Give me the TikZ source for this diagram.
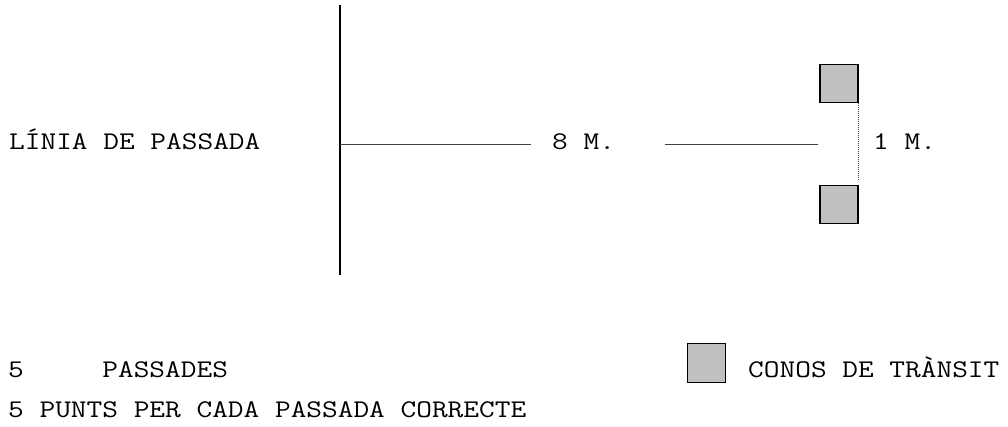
\documentclass[tikz,border=0pt]{standalone}
\usepackage{fontspec}
\setmonofont[FakeStretch=1.2]{Latin Modern Mono}
\usepackage{xcolor}
\usepackage{tikz}
\definecolor{conegray}{RGB}{192,192,192}

\begin{document}
\begin{tikzpicture}[x=1pt, y=-1pt,
    mono/.style={anchor=base west, inner sep=0pt, font=\ttfamily\fontsize{25.4}{30}\selectfont},
    cone/.style={rectangle, draw, line width=1.5pt, fill=conegray, minimum width=38pt, minimum height=38pt, inner sep=0pt},
    measure/.style={line width=1pt, draw=black!75}]
    \useasboundingbox (0,0) rectangle (1008,427);

    % Passing line
    \coordinate (linetop) at (340,5);
    \coordinate (linebottom) at (340,275);
    \draw[line width=2pt] (linetop) -- (linebottom);
    \node[mono] (linia) at (9,150) {LÍNIA DE PASSADA};

    % Cones
    \node[cone] (conetop) at (839,83.5) {};
    \node[cone] (conebottom) at (839,204.5) {};

    % Distances
    \coordinate (start) at (340,145);
    \coordinate (leftend) at (531,145);
    \coordinate (rightstart) at (665,145);
    \coordinate (rightend) at (818,145);
    \node[mono] (eight) at (552,150) {8 M.};
    \node[mono] (one) at (873,150) {1 M.};
    \draw[measure] (start) -- (leftend);
    \draw[measure] (rightstart) -- (rightend);
    \draw[measure, densely dotted, line width=0.8pt] (conetop.south east) -- ([yshift=4pt]conebottom.north east);

    % Legend
    \node[mono] (passades) at (8,377) {5\ \ \ \ \ PASSADES};
    \node[mono] (punts) at (8,417) {5 PUNTS PER CADA PASSADA CORRECTE};
    \node[cone, minimum height=39pt] (legendcone) at (706.5,363) {};
    \node[mono] (conos) at (748,377) {CONOS DE TRÀNSIT};
\end{tikzpicture}
\end{document}
